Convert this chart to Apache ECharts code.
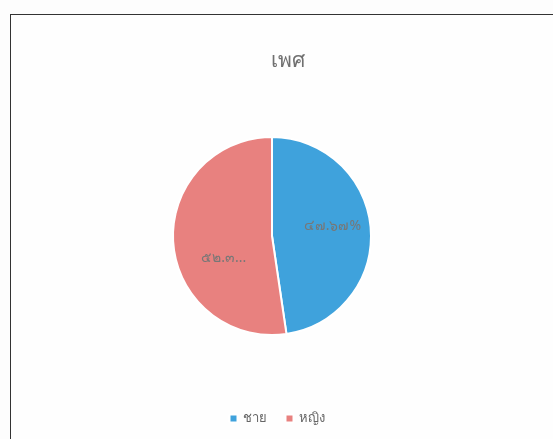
<!DOCTYPE html>
<html>
<head>
<meta charset="utf-8">
<script src="https://cdn.jsdelivr.net/npm/echarts@6/dist/echarts.min.js"></script>
<style>
html,body{margin:0;padding:0;background:#fdfdfd;}
#frame{position:absolute;left:10px;top:14px;width:560px;height:440px;border:1.5px solid #333;box-sizing:border-box;background:#fefefe;}
#chart{position:absolute;left:0;top:0;width:553px;height:439px;}
</style>
</head>
<body>
<div id="frame"></div>
<div id="chart"></div>
<script>
const titleText = 'เพศ';
const categories = ['ชาย', 'หญิง'];
const values = [47.67, 52.33];
const labelTexts = ['๔๗.๖๗%', '๕๒.๓...'];
const colors = ['#3fa2dc', '#e8817f'];

const chart = echarts.init(document.getElementById('chart'));
const offsets = [[8, -6], [4, 18]];
chart.setOption({
  animation: false,
  color: colors,
  title: {
    text: titleText, left: 283, top: 46, textAlign: 'center',
    textStyle: {fontSize: 21, fontWeight: 'normal', color: '#707070', fontFamily: 'Noto Sans, sans-serif'}
  },
  legend: {
    bottom: 9, left: 'center', itemWidth: 8, itemHeight: 8, itemGap: 18,
    icon: 'rect',
    textStyle: {fontSize: 13, color: '#666', fontFamily: 'Noto Sans, sans-serif'},
    data: categories
  },
  series: [{
    type: 'pie',
    center: [272, 236],
    radius: 99,
    startAngle: 90,
    clockwise: true,
    itemStyle: {borderColor: '#fff', borderWidth: 2},
    label: {show: true, position: 'inside', fontSize: 14, color: '#777', fontFamily: 'Noto Sans, sans-serif'},
    labelLine: {show: false},
    data: categories.map((c, i) => ({
      name: c, value: values[i],
      label: {formatter: labelTexts[i], offset: offsets[i]}
    }))
  }]
});
</script>
</body>
</html>
